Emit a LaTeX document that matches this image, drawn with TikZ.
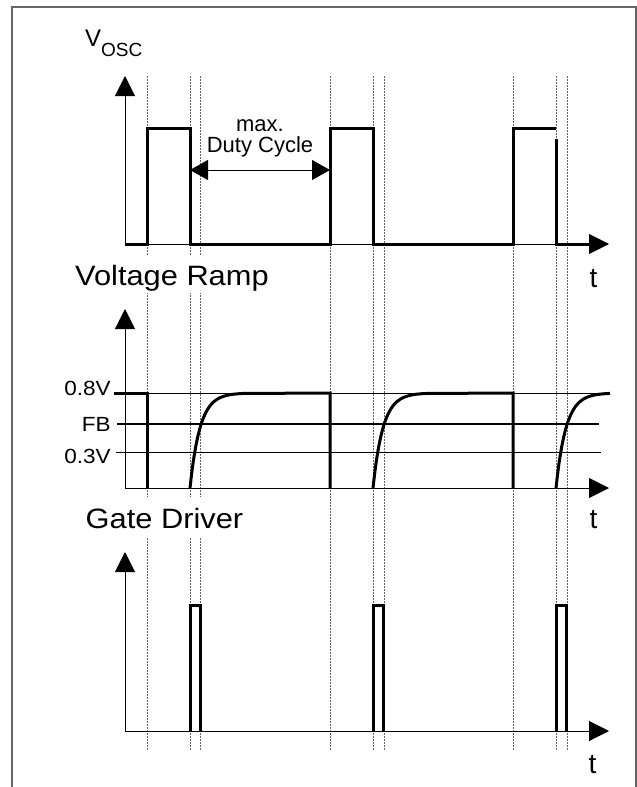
\documentclass[tikz,border=0pt]{standalone}
\usepackage{fontspec}
\setmainfont{Liberation Sans}
\usetikzlibrary{arrows.meta}
\usetikzlibrary{positioning}

\tikzset{
  signal/.style={line width=3pt,line join=miter},
  axis/.style={line width=1pt,-{Triangle[length=20pt,width=20pt]}},
  guide/.style={black!60,line width=0.9pt,dash pattern=on 2pt off 1pt},
  level/.style={line width=1pt},
  title/.style={font=\fontsize{28}{28}\selectfont,xscale=1.1,inner sep=0pt,fill=white,anchor=base west},
  lvl/.style={font=\fontsize{20.5}{21}\selectfont,xscale=1.1,inner sep=0pt,anchor=east},
  tlbl/.style={font=\fontsize{28}{28}\selectfont,inner sep=0pt,anchor=base}
}

\begin{document}
\begin{tikzpicture}[x=1pt,y=-1pt]
\useasboundingbox (0,0) rectangle (637,787);
\draw[black!60,line width=1.2pt] (12,790) -- (12,7) -- (636,7) -- (636,790);

% guide lines at the switching instants
\foreach \x in {147,190,200,330,373,384,513,556,567}
  \draw[guide] (\x,76) -- (\x,750);

% oscillator
\coordinate (O1) at (125,244);
\draw[axis] (O1) -- (125,76);
\draw[axis] (O1) -- (609,244);
\draw[signal] (O1) -- (147,244) -- (147,128) -- (190,128) -- (190,244) -- (330,244) -- (330,128) -- (373,128) -- (373,244) -- (513,244) -- (513,128) -- (556,128);
\draw[signal] (556,139) -- (556,244) -- (590,244);
\node[anchor=base west,inner sep=0pt] (vosc) at (85,46.7) {\fontsize{24}{24}\selectfont V\raisebox{-10pt}{\fontsize{19}{19}\selectfont OSC}};
\coordinate (fall1) at (190,170);
\coordinate (rise2) at (330,170);
\draw[line width=1pt,{Triangle[length=18pt,width=20pt]}-{Triangle[length=18pt,width=20pt]}] (fall1) -- (rise2);
\node[font=\fontsize{22}{22}\selectfont,inner sep=0pt,anchor=base] (max) at (260,131) {max.};
\node[font=\fontsize{22}{22}\selectfont,inner sep=0pt,anchor=base] (duty) at (260,152) {Duty Cycle};
\node[tlbl] (t1) at (593.5,287) {t};

% ramp
\coordinate (O2) at (125,488);
\draw[axis] (O2) -- (125,309);
\draw[axis] (O2) -- (609,488);
\draw[level] (114,393) -- (608,393);
\draw[line width=2pt] (117,424) -- (599,424);
\draw[level] (116,452) -- (601,452);
\node[lvl] (l08) at (111,388.5) {0.8V};
\node[lvl] (lfb) at (111,424.7) {FB};
\node[lvl] (l03) at (111,456.5) {0.3V};
\draw[signal] (114,393) -- (147,393) -- (147,488);
\draw[signal] plot[domain=0:53,samples=40] ({190+\x},{488-95*(1-exp(-\x/10))}) -- (330,393) -- (330,488);
\draw[signal] plot[domain=0:53,samples=40] ({373+\x},{488-95*(1-exp(-\x/10))}) -- (513,393) -- (513,488);
\draw[signal] plot[domain=0:54,samples=40] ({556+\x},{488-95*(1-exp(-\x/10))});
\node[title] (ramp) at (75,285) [text height=30pt,text depth=8pt] {Voltage Ramp};
\node[tlbl] (t2) at (593.5,528) {t};

% gate driver
\coordinate (O3) at (125,731);
\draw[axis] (O3) -- (125,552);
\draw[axis] (O3) -- (609,731);
\draw[signal] (190.3,731) -- (190.3,605) -- (200.7,605) -- (200.7,731);
\draw[signal] (373.3,731) -- (373.3,605) -- (383.7,605) -- (383.7,731);
\draw[signal] (556.3,731) -- (556.3,605) -- (566.7,605) -- (566.7,731);
\node[title] (gate) at (85.5,528) [text height=31pt,text depth=9pt] {Gate Driver};
\node[tlbl] (t3) at (592.5,773) {t};

\end{tikzpicture}
\end{document}
